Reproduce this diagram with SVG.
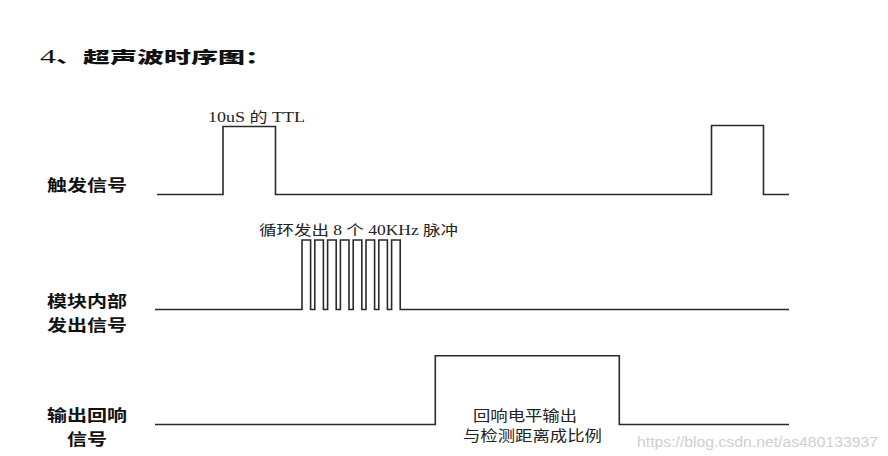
<svg xmlns="http://www.w3.org/2000/svg" width="888" height="456" viewBox="0 0 888 456">
<style>
.wave{fill:none;stroke:#2a2a2a;stroke-width:1.6;stroke-linejoin:miter}
.lbl{font-family:"Noto Sans CJK SC","Noto Sans",sans-serif;font-weight:700;font-size:16px;fill:#111}
.note{font-family:"Noto Sans CJK SC","Noto Sans",sans-serif;font-size:15px;fill:#222}
.mono{font-family:"Liberation Serif","Noto Sans CJK SC",serif;font-size:14px;fill:#222}
</style>
<rect width="888" height="456" fill="#fff"/>
<g id="title">
<text x="40" y="63" font-size="16" font-weight="700" fill="#111" font-family="'Liberation Serif','Noto Sans CJK SC',serif" textLength="232" lengthAdjust="spacingAndGlyphs"><tspan font-weight="400" font-size="19">4</tspan>、<tspan font-family="'Noto Sans CJK SC',sans-serif" font-weight="900">超声波时序图：</tspan></text>
</g>
<g id="trigger">
<text class="lbl" x="47" y="191" textLength="80" lengthAdjust="spacingAndGlyphs">触发信号</text>
<text class="mono" x="208" y="122" textLength="97" lengthAdjust="spacingAndGlyphs">10uS 的 TTL</text>
</g>
<g id="module">
<text class="lbl" x="47" y="307" textLength="80" lengthAdjust="spacingAndGlyphs">模块内部</text>
<text class="lbl" x="47" y="331" textLength="80" lengthAdjust="spacingAndGlyphs">发出信号</text>
<text class="mono" x="259" y="235" textLength="199" lengthAdjust="spacingAndGlyphs" font-family="'Noto Sans CJK SC',sans-serif">循环发出 8 个 40KHz 脉冲</text>
</g>
<g id="echo">
<text class="lbl" x="47" y="421" textLength="80" lengthAdjust="spacingAndGlyphs">输出回响</text>
<text class="lbl" x="67" y="445" textLength="40" lengthAdjust="spacingAndGlyphs">信号</text>
<text class="note" x="473" y="421" textLength="104" lengthAdjust="spacingAndGlyphs">回响电平输出</text>
<text class="note" x="463" y="441" textLength="139" lengthAdjust="spacingAndGlyphs">与检测距离成比例</text>
</g>
<g id="connectors">
<path class="wave" d="M157 194.5 H223 V126.5 H275.5 V194.5 H711.5 V125.5 H763.5 V194.5 H789"/>
<path class="wave" d="M155 309.5 H302 V240 H310.6 V309.5 H314.8 V240 H323.4 V309.5 H327.6 V240 H336.2 V309.5 H340.4 V240 H349 V309.5 H353.2 V240 H361.8 V309.5 H366 V240 H374.6 V309.5 H378.8 V240 H387.4 V309.5 H391.6 V240 H400.2 V309.5 H789"/>
<path class="wave" d="M155 424.5 H435.3 V355.7 H619.3 V424.5 H789"/>
</g>
<text x="637" y="447" font-family="'Liberation Sans',Arial,sans-serif" font-size="14" fill="#cfcfcf" textLength="241" lengthAdjust="spacingAndGlyphs">https://blog.csdn.net/as480133937</text>
</svg>
